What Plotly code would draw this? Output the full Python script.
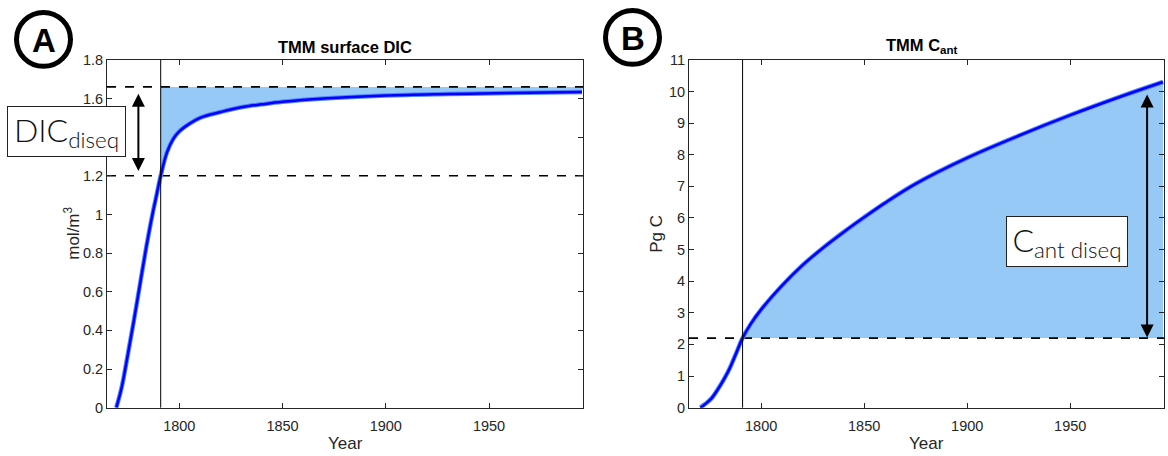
import plotly.graph_objects as go

# ---------------- data ----------------
dic_years = [1769.5, 1772, 1775, 1778, 1781, 1784, 1787, 1789, 1791, 1794, 1797, 1800,
             1805, 1810, 1820, 1830, 1840, 1850, 1870, 1900, 1930, 1960, 1995]
dic_values = [0.0, 0.10, 0.27, 0.45, 0.64, 0.83, 1.00, 1.10, 1.20, 1.32, 1.39, 1.43,
              1.47, 1.50, 1.53, 1.555, 1.57, 1.583, 1.60, 1.615, 1.623, 1.629, 1.634]

cant_years = [1770.5, 1773, 1776, 1779, 1782, 1785, 1788, 1791, 1795, 1800, 1810, 1820,
              1830, 1840, 1850, 1860, 1875, 1900, 1925, 1950, 1975, 1995]
cant_values = [0.0, 0.12, 0.30, 0.58, 0.90, 1.28, 1.74, 2.20, 2.65, 3.10, 3.85, 4.50,
               5.05, 5.55, 6.02, 6.47, 7.08, 7.90, 8.60, 9.25, 9.85, 10.30]

start_year = 1791
dic_eq = 1.66
dic_start = 1.20
cant_start = 2.2
x_range = [1765, 1995.5]

x_ticks = [1800, 1850, 1900, 1950]
x_ticktext = ["1800", "1850", "1900", "1950"]
dic_ticks = [0, 0.2, 0.4, 0.6, 0.8, 1.0, 1.2, 1.4, 1.6, 1.8]
dic_ticktext = ["0", "0.2", "0.4", "0.6", "0.8", "1", "1.2", "1.4", "1.6", "1.8"]
cant_ticks = list(range(0, 12))
cant_ticktext = [str(v) for v in cant_ticks]

# ---------------- styling ----------------
W, H = 1168, 456
# observed page->picture vertical mapping: y_pic = A_OFF + S * y_page
A_OFF, S = 8.1, 0.9655
FONT = "Liberation Sans, Arial, Helvetica, sans-serif"
AX_COL = "#262626"
FILL = "#97c9f6"
BLUE = "#0000ff"

def px_x(p):
    return p / W

def px_y(p):
    return 1 - ((p - A_OFF) / S) / H

dom_y = [px_y(408), px_y(60)]
domA = [px_x(107), px_x(583)]
domB = [px_x(689), px_x(1164)]

fig = go.Figure()

# ---- panel A ----
fa_x = [x for x in dic_years if x >= start_year]
fa_y = [v for x, v in zip(dic_years, dic_values) if x >= start_year]
fig.add_trace(go.Scatter(x=[start_year, x_range[1]], y=[dic_eq, dic_eq], mode="lines",
                         line=dict(width=0, color=FILL), xaxis="x", yaxis="y",
                         hoverinfo="skip", showlegend=False))
fig.add_trace(go.Scatter(x=fa_x, y=fa_y, mode="lines", fill="tonexty", fillcolor=FILL,
                         line=dict(width=0, color=FILL, shape="spline"), xaxis="x", yaxis="y",
                         hoverinfo="skip", showlegend=False))
for lvl in (dic_eq, dic_start):
    fig.add_trace(go.Scatter(x=x_range, y=[lvl, lvl], mode="lines",
                             line=dict(color="black", width=1.6, dash="dash"),
                             xaxis="x", yaxis="y", showlegend=False))
fig.add_trace(go.Scatter(x=dic_years, y=dic_values, mode="lines",
                         line=dict(color="#4f86ff", width=4.5, shape="spline"),
                         xaxis="x", yaxis="y", showlegend=False))
fig.add_trace(go.Scatter(x=dic_years, y=dic_values, mode="lines",
                         line=dict(color=BLUE, width=2.5, shape="spline"),
                         xaxis="x", yaxis="y", showlegend=False))

# ---- panel B ----
fb_x = [x for x in cant_years if x >= start_year]
fb_y = [v for x, v in zip(cant_years, cant_values) if x >= start_year]
fig.add_trace(go.Scatter(x=[start_year, fb_x[-1]], y=[cant_start, cant_start], mode="lines",
                         line=dict(width=0, color=FILL), xaxis="x2", yaxis="y2",
                         hoverinfo="skip", showlegend=False))
fig.add_trace(go.Scatter(x=fb_x, y=fb_y, mode="lines", fill="tonexty", fillcolor=FILL,
                         line=dict(width=0, color=FILL, shape="spline"), xaxis="x2", yaxis="y2",
                         hoverinfo="skip", showlegend=False))
fig.add_trace(go.Scatter(x=x_range, y=[cant_start, cant_start], mode="lines",
                         line=dict(color="black", width=1.6, dash="dash"),
                         xaxis="x2", yaxis="y2", showlegend=False))
fig.add_trace(go.Scatter(x=cant_years, y=cant_values, mode="lines",
                         line=dict(color="#4f86ff", width=4.5, shape="spline"),
                         xaxis="x2", yaxis="y2", showlegend=False))
fig.add_trace(go.Scatter(x=cant_years, y=cant_values, mode="lines",
                         line=dict(color=BLUE, width=2.5, shape="spline"),
                         xaxis="x2", yaxis="y2", showlegend=False))

axis_common = dict(showline=True, linecolor=AX_COL, linewidth=1, mirror="ticks",
                   ticks="inside", ticklen=5, tickcolor=AX_COL, showgrid=False,
                   zeroline=False, tickfont=dict(family=FONT, size=14.5, color=AX_COL))

fig.update_layout(
    width=W, height=H, autosize=False, margin=dict(l=0, r=0, t=0, b=0, pad=0),
    paper_bgcolor="white", plot_bgcolor="white",
    xaxis=dict(domain=domA, range=x_range, anchor="y", tickvals=x_ticks, ticktext=x_ticktext,
               ticklabelstandoff=5, **axis_common),
    yaxis=dict(domain=dom_y, range=[0, 1.8], anchor="x", tickvals=dic_ticks, ticktext=dic_ticktext,
               **axis_common),
    xaxis2=dict(domain=domB, range=x_range, anchor="y2", tickvals=x_ticks, ticktext=x_ticktext,
                ticklabelstandoff=5, **axis_common),
    yaxis2=dict(domain=dom_y, range=[0, 11], anchor="x2", tickvals=cant_ticks, ticktext=cant_ticktext,
                **axis_common),
)

# axis titles
TFONT = dict(family=FONT, size=17, color=AX_COL)
for cx in (345, 926):
    fig.add_annotation(x=px_x(cx), y=px_y(444), xref="paper", yref="paper", text="Year",
                       showarrow=False, font=TFONT, xanchor="center", yanchor="middle")
fig.add_annotation(x=px_x(72), y=px_y(234), xref="paper", yref="paper", text="mol/m<sup>3</sup>",
                   textangle=-90, showarrow=False, font=TFONT, xanchor="center", yanchor="middle")
fig.add_annotation(x=px_x(657), y=px_y(234), xref="paper", yref="paper", text="Pg C",
                   textangle=-90, showarrow=False, font=TFONT, xanchor="center", yanchor="middle")

# vertical lines at start year
for xr, yr in (("x", "y"), ("x2", "y2")):
    fig.add_shape(type="line", xref=xr, yref=yr + " domain", x0=start_year, x1=start_year,
                  y0=0, y1=1, line=dict(color="black", width=1))

# circles A / B
for cx, cy, letter in ((43.5, 39.5, "A"), (632.5, 37.5, "B")):
    r = 27
    fig.add_shape(type="circle", xref="paper", yref="paper",
                  x0=px_x(cx - r), x1=px_x(cx + r), y0=px_y(cy + r), y1=px_y(cy - r),
                  line=dict(color="black", width=5), fillcolor="white")
    fig.add_annotation(x=px_x(cx), y=px_y(cy + 1), xref="paper", yref="paper", text=f"<b>{letter}</b>",
                       showarrow=False, font=dict(family=FONT, size=33, color="black"),
                       xanchor="center", yanchor="middle")

# panel titles
fig.add_annotation(x=px_x(345), y=px_y(47), xref="paper", yref="paper",
                   text="<b>TMM surface DIC</b>", showarrow=False,
                   font=dict(family=FONT, size=16.5, color="black"), xanchor="center", yanchor="middle")
fig.add_annotation(x=px_x(922), y=px_y(46), xref="paper", yref="paper",
                   text="<b>TMM C<sub>ant</sub></b>", showarrow=False,
                   font=dict(family=FONT, size=16.5, color="black"), xanchor="center", yanchor="middle")

# double arrows
fig.add_annotation(x=1780.2, y=1.225, ax=1780.2, ay=1.632, xref="x", yref="y", axref="x", ayref="y",
                   text="", showarrow=True, arrowhead=2, arrowside="end+start", arrowsize=1.3,
                   arrowwidth=2, arrowcolor="black", standoff=0, startstandoff=0)
fig.add_annotation(x=1987.3, y=2.22, ax=1987.3, ay=9.95, xref="x2", yref="y2", axref="x2", ayref="y2",
                   text="", showarrow=True, arrowhead=2, arrowside="end+start", arrowsize=1.3,
                   arrowwidth=2, arrowcolor="black", standoff=0, startstandoff=0)

# labelled boxes
LIGHT = "Lato, Liberation Sans, Arial, sans-serif"
fig.add_annotation(x=px_x(66.5), y=px_y(131.5), xref="paper", yref="paper",
                   text="DIC<sub>diseq</sub>", showarrow=False,
                   font=dict(family=LIGHT, size=32, color="#111111", weight=300),
                   bgcolor="white", bordercolor="#222222", borderwidth=1,
                   width=115, height=47, xanchor="center", yanchor="middle", align="center")
fig.add_annotation(x=px_x(1067), y=px_y(242), xref="paper", yref="paper",
                   text="C<sub>ant diseq</sub>", showarrow=False,
                   font=dict(family=LIGHT, size=32, color="#111111", weight=300),
                   bgcolor="white", bordercolor="#222222", borderwidth=1,
                   width=118, height=47, xanchor="center", yanchor="middle", align="center")

fig.write_html("out.html", config={"displayModeBar": False},
               post_script="document.body.style.margin='0';document.body.style.overflow='hidden';")
